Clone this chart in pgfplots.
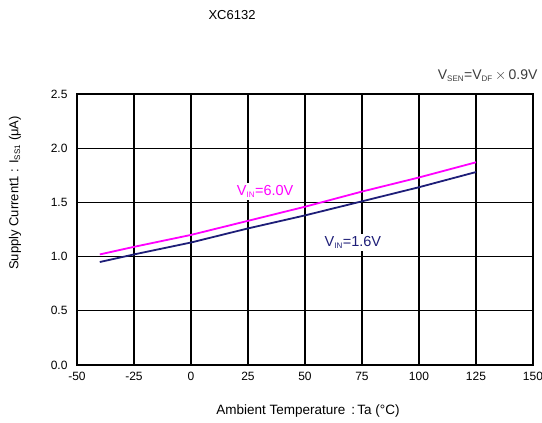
\documentclass[border=0pt]{standalone}
\usepackage{pgfplots}
\pgfplotsset{compat=1.18}
\usepackage{fontspec}
\setmainfont{Liberation Sans}
\definecolor{mag}{RGB}{255,0,255}
\definecolor{navy}{RGB}{30,30,120}
\definecolor{txtgray}{RGB}{60,60,60}
\begin{document}
\begin{tikzpicture}[x=1pt,y=1pt]
\useasboundingbox (0,0) rectangle (542,423);
\begin{axis}[
  at={(77pt,58pt)}, anchor=south west,
  scale only axis, width=456pt, height=271pt,
  xmin=-50, xmax=150, ymin=0, ymax=2.5,
  xtick={-50,-25,...,150}, ytick={0,0.5,...,2.5},
  grid=major, major grid style={black, line width=1.1pt},
  axis line style={black, line width=1.6pt},
  major tick length=0pt,
  tick label style={font=\fontsize{12}{14}\selectfont},
  /pgf/number format/assume math mode=true,
  yticklabel style={/pgf/number format/fixed, /pgf/number format/fixed zerofill, /pgf/number format/precision=1, xshift=-6pt},
  xticklabel style={yshift=-4pt},
  clip=false,
]
\addplot[mag, line width=1.8pt] coordinates {
 (-40,1.02) (-25,1.09) (0,1.20) (25,1.33) (50,1.46) (75,1.60) (100,1.73) (125,1.87)};
\addplot[navy, line width=1.8pt] coordinates {
 (-40,0.95) (-25,1.02) (0,1.13) (25,1.26) (50,1.38) (75,1.51) (100,1.64) (125,1.78)};
\node[fill=white, text=mag, inner sep=2pt, font=\fontsize{14.5}{16}\selectfont] at (axis cs:32.5,1.60) {V\textsubscript{\footnotesize IN}=6.0V};
\node[fill=white, text=navy, inner sep=2pt, font=\fontsize{14.5}{16}\selectfont] at (axis cs:71,1.13) {V\textsubscript{\footnotesize IN}=1.6V};
\end{axis}
\node[font=\fontsize{13}{15}\selectfont] at (232,408) {XC6132};
\node[anchor=east, text=txtgray, font=\fontsize{14}{16}\selectfont] at (541,347) {V\textsubscript{\footnotesize SEN}=V\textsubscript{\footnotesize DF}\,$\times$\,0.9V};
\node[font=\fontsize{13.5}{15}\selectfont] at (308,12) {Ambient Temperature \,:\,Ta (°C)};
\node[rotate=90, font=\fontsize{13}{15}\selectfont] at (15,230) {Supply Current1 : I\textsubscript{\footnotesize SS1} (μA)};
\end{tikzpicture}
\end{document}
